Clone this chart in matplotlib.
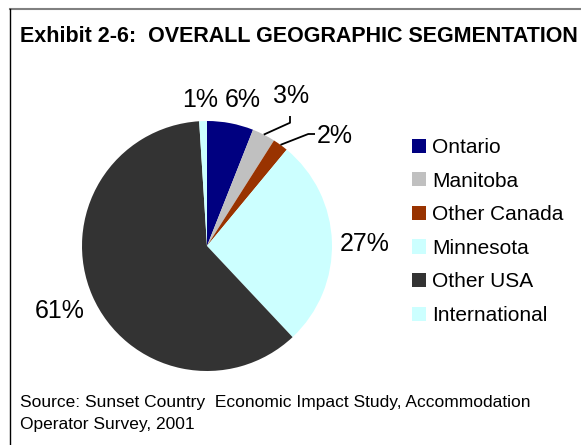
"""Exhibit 2-6: overall geographic segmentation pie chart."""

import matplotlib

matplotlib.use("Agg")
import matplotlib.pyplot as plt
import numpy as np
from matplotlib.lines import Line2D

plt.rcParams["font.family"] = ["Liberation Sans", "DejaVu Sans"]

regions = ["Ontario", "Manitoba", "Other Canada", "Minnesota", "Other USA", "International"]
shares = [6, 3, 2, 27, 61, 1]
colors = ["#000080", "#C0C0C0", "#993300", "#CCFFFF", "#333333", "#CCFFFF"]

W, H = 581, 445
fig = plt.figure(figsize=(W / 100, H / 100), dpi=100)

# pie centre and radius in pixels
cx, cy, r = 207, 246, 125
ax = fig.add_axes([(cx - r) / W, (H - cy - r) / H, 2 * r / W, 2 * r / H])
wedges, _ = ax.pie(shares, colors=colors, startangle=90, counterclock=False,
                   radius=1, wedgeprops=dict(linewidth=0))
ax.set_xlim(-1, 1)
ax.set_ylim(-1, 1)
ax.set_aspect("equal")
ax.axis("off")

# label baselines, in pie radius units
label_xy = [(0.29, 1.11), (0.67, 1.144), (1.02, 0.824),
            (1.26, -0.04), (-1.18, -0.58), (-0.056, 1.11)]
for s, (lx, ly) in zip(shares, label_xy):
    ax.text(lx, ly, f"{s}%", ha="center", va="baseline", fontsize=18)

# leader lines for the two thin slices
bends = {1: [(0.664, 0.986), (0.664, 1.04)], 2: [(0.81, 0.896), (0.864, 0.896)]}
for i, pts in bends.items():
    w = wedges[i]
    mid = np.deg2rad((w.theta1 + w.theta2) / 2)
    xs = [np.cos(mid)] + [p[0] for p in pts]
    ys = [np.sin(mid)] + [p[1] for p in pts]
    ax.plot(xs, ys, color="black", lw=1.3, clip_on=False, solid_capstyle="butt")

fig.legend(wedges, regions, loc="upper left", bbox_to_anchor=(412 / W, 1 - 138 / H),
           frameon=False, fontsize=15, handlelength=0.67, handleheight=0.67,
           handletextpad=0.3, labelspacing=0.70, borderpad=0, borderaxespad=0)

fig.text(20 / W, 1 - 37 / H, "Exhibit 2-6:  OVERALL GEOGRAPHIC SEGMENTATION",
         fontsize=15.5, fontweight="bold", va="center")
fig.text(20 / W, 1 - 403 / H,
         "Source: Sunset Country  Economic Impact Study, Accommodation",
         fontsize=12.5, va="center")
fig.text(20 / W, 1 - 424 / H, "Operator Survey, 2001", fontsize=12.5, va="center")

# frame (runs off the right and bottom edges)
fig.add_artist(Line2D([10 / W, 1], [1 - 9 / H] * 2, color="#808080", lw=1.5))
fig.add_artist(Line2D([10 / W] * 2, [0, 1 - 9 / H], color="black", lw=1.0))

fig.savefig("out.png", dpi=100, facecolor="white")
